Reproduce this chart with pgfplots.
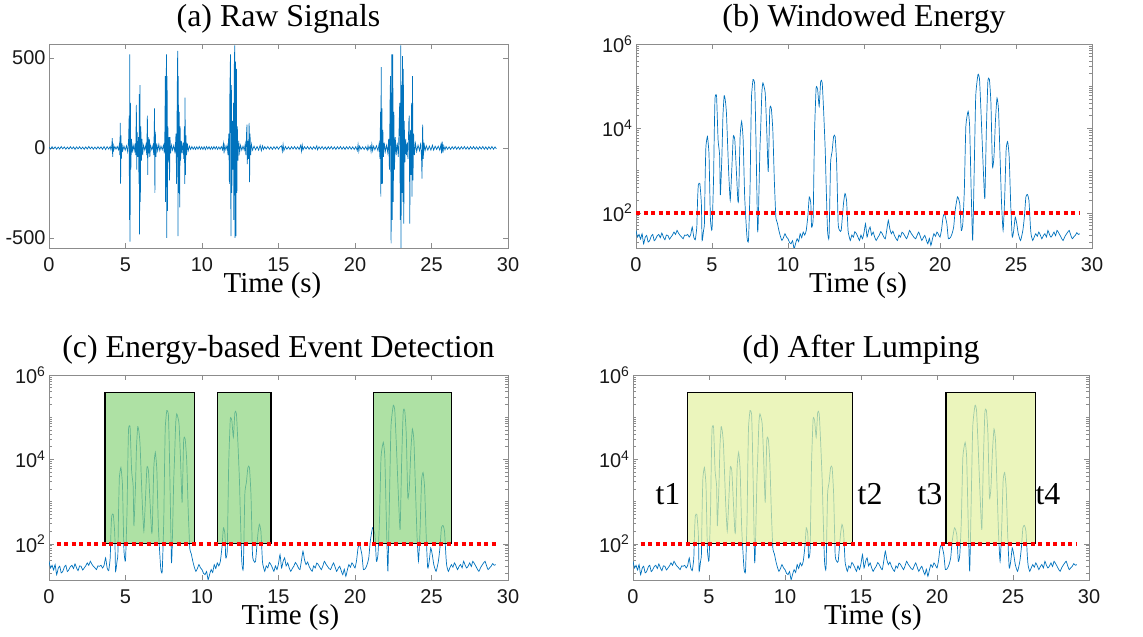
\documentclass[border=0pt]{standalone}
\usepackage{pgfplots}
\pgfplotsset{compat=1.18}
\usepackage{pgfplotstable}
\usepackage{fontspec}
\setmainfont{Liberation Serif}
\newfontfamily\tickfont{Liberation Sans}
\definecolor{mblue}{RGB}{0,114,189}
\definecolor{boxgreen}{RGB}{140,212,125}
\definecolor{boxyellow}{RGB}{226,241,159}

\pgfplotstableread{
t y
0 4
0.1 -6
0.2 7
0.3 -5
0.4 6
0.5 -7
0.6 5
0.7 -6
0.8 8
0.9 -5
1.0 6
1.1 -7
1.2 5
1.3 -6
1.4 7
1.5 -5
1.6 6
1.7 -8
1.8 6
1.9 -5
2.0 7
2.1 -6
2.2 5
2.3 -7
2.4 6
2.5 -6
2.6 8
2.7 -5
2.8 6
2.9 -7
3.0 5
3.1 -6
3.2 7
3.3 -5
3.4 6
3.5 -7
3.6 8
3.7 -9
3.8 7
3.9 -6
4.0 8
4.05 -10
4.10 8
4.14 55
4.16 -50
4.19 25
4.23 -12
4.30 8
4.38 -6
4.46 8
4.54 -10
4.60 20
4.63 -40
4.66 140
4.68 -200
4.70 70
4.73 -60
4.77 25
4.82 -15
4.90 10
4.98 -12
5.06 12
5.14 -20
5.20 40
5.24 180
5.26 -400
5.28 520
5.30 -520
5.32 250
5.35 -120
5.39 50
5.44 -25
5.50 15
5.57 -15
5.63 25
5.67 -40
5.71 240
5.73 -120
5.76 90
5.80 -50
5.85 60
5.88 -200
5.90 300
5.92 -480
5.95 350
5.97 -300
6.00 120
6.04 -70
6.08 50
6.12 -40
6.18 15
6.26 -12
6.34 20
6.39 -40
6.43 180
6.45 -150
6.48 60
6.52 -30
6.56 50
6.59 -50
6.64 15
6.72 -10
6.80 15
6.85 -40
6.88 120
6.90 220
6.92 -250
6.95 90
6.99 -50
7.04 25
7.10 -15
7.18 20
7.24 -15
7.32 10
7.40 -10
7.48 15
7.54 -30
7.58 120
7.60 400
7.62 -300
7.65 300
7.68 520
7.70 -500
7.72 400
7.74 -350
7.77 120
7.80 -80
7.85 60
7.88 -180
7.91 60
7.95 -30
8.00 15
8.08 -12
8.16 15
8.24 -30
8.30 80
8.34 -200
8.38 300
8.41 540
8.43 -490
8.45 400
8.48 -250
8.51 200
8.54 -330
8.57 120
8.60 -70
8.65 40
8.70 -30
8.76 30
8.81 -60
8.85 120
8.87 -200
8.89 280
8.92 -150
8.95 70
8.99 -40
9.04 25
9.10 -15
9.18 10
9.26 -8
9.34 8
9.42 -7
9.50 6
9.58 -8
9.66 7
9.74 -6
9.82 8
9.90 -7
9.98 6
10.06 -8
10.14 7
10.22 -9
10.30 8
10.38 -6
10.46 7
10.54 -8
10.62 6
10.70 -7
10.78 8
10.86 -6
10.94 7
11.02 -8
11.10 6
11.18 -7
11.26 8
11.34 -10
11.40 25
11.44 -30
11.49 15
11.56 -10
11.64 15
11.70 -40
11.75 80
11.79 -200
11.82 300
11.86 520
11.89 -490
11.92 350
11.95 -250
11.99 150
12.03 -120
12.06 250
12.08 -400
12.11 450
12.14 570
12.16 -500
12.19 480
12.22 -490
12.25 440
12.28 -250
12.31 120
12.35 -70
12.40 40
12.46 -25
12.52 15
12.60 -12
12.68 10
12.76 -12
12.82 20
12.87 -40
12.91 80
12.94 130
12.96 -90
13.00 40
13.04 -60
13.08 140
13.11 -190
13.14 80
13.18 -40
13.23 20
13.30 -12
13.40 10
13.50 -10
13.60 8
13.70 -12
13.80 15
13.88 -15
13.95 12
14.02 -8
14.1 7
14.2 -6
14.3 8
14.4 -7
14.5 6
14.6 -8
14.7 7
14.8 -6
14.9 8
15.0 -7
15.1 6
15.2 12
15.25 -18
15.3 20
15.35 -15
15.45 8
15.55 -7
15.65 6
15.75 -8
15.85 7
15.95 -6
16.05 8
16.15 -7
16.25 6
16.35 -8
16.45 15
16.5 -18
16.55 17
16.6 -10
16.7 7
16.8 -6
16.9 8
17.0 -7
17.1 6
17.2 -8
17.3 7
17.4 -6
17.5 12
17.55 -10
17.65 7
17.75 -6
17.85 8
17.95 -7
18.05 6
18.15 -8
18.25 7
18.35 -6
18.45 8
18.55 -7
18.65 6
18.75 -8
18.85 7
18.95 -6
19.05 8
19.15 -7
19.25 6
19.35 -8
19.45 7
19.55 -6
19.65 8
19.75 -7
19.85 6
19.95 -8
20.05 7
20.15 -15
20.2 20
20.25 -18
20.3 10
20.4 -7
20.5 6
20.6 -8
20.7 7
20.8 -12
20.85 12
20.9 -7
21.0 10
21.05 -20
21.1 20
21.15 -15
21.22 10
21.30 -10
21.40 12
21.50 -15
21.58 25
21.63 -60
21.67 200
21.69 -270
21.71 450
21.73 -200
21.76 220
21.79 -200
21.82 100
21.86 -50
21.91 30
21.98 -20
22.06 15
22.14 -25
22.20 50
22.25 -120
22.29 250
22.32 400
22.36 -530
22.40 520
22.44 -400
22.47 520
22.50 -300
22.54 200
22.58 -120
22.63 60
22.69 -40
22.76 30
22.83 -50
22.88 100
22.92 250
22.96 -400
22.99 570
23.01 -560
23.04 350
23.07 -250
23.10 510
23.13 -300
23.16 440
23.19 -420
23.22 150
23.26 -80
23.31 50
23.36 -40
23.41 30
23.46 -60
23.52 150
23.55 180
23.58 -420
23.62 100
23.66 -150
23.70 250
23.73 -270
23.76 400
23.79 -180
23.83 80
23.88 -40
23.95 25
24.03 -20
24.12 15
24.22 -15
24.30 30
24.35 -60
24.38 -170
24.42 130
24.46 -60
24.51 30
24.58 -15
24.66 12
24.76 -12
24.86 10
24.96 -12
25.06 15
25.14 -12
25.24 10
25.34 -8
25.44 10
25.54 -12
25.62 20
25.66 -30
25.70 35
25.75 -25
25.80 12
25.88 -10
25.95 8
26.05 -7
26.15 6
26.25 -8
26.35 7
26.45 -6
26.55 8
26.65 -7
26.75 6
26.85 -8
26.95 7
27.05 -6
27.15 8
27.25 -7
27.35 6
27.45 -8
27.55 7
27.65 -6
27.75 8
27.85 -7
27.95 6
28.05 -8
28.15 7
28.25 -6
28.35 8
28.45 -7
28.55 6
28.65 -8
28.75 7
28.85 -6
28.95 8
29.05 -7
29.15 6
29.24 -5
}\rawsig

\pgfplotstableread{
t E
0 38.6
0.1 26.8
0.2 31.0
0.3 24.0
0.4 32.2
0.5 18.6
0.6 26.0
0.7 29.4
0.8 20.5
0.9 22.3
1.0 28.0
1.1 31.0
1.2 22.0
1.3 24.5
1.4 29.0
1.5 31.0
1.6 26.0
1.7 33.4
1.8 27.0
1.9 23.2
2.0 30.0
2.1 29.4
2.2 24.0
2.3 26.8
2.4 30.0
2.5 35.3
2.6 31.0
2.7 38.6
2.8 33.0
2.9 29.4
3.0 27.0
3.1 24.5
3.2 30.0
3.3 29.4
3.4 31.0
3.5 26.8
3.6 31.0
3.7 46.4
3.8 26.8
3.9 23.2
4.0 46.4
4.05 200
4.1 456
4.2 499
4.3 167
4.35 22.3
4.45 40
4.5 55.7
4.55 700
4.6 3730
4.7 6450
4.8 2590
4.85 400
4.9 66.8
5.0 40.1
5.1 600
5.15 8000
5.2 52700
5.3 57800
5.4 5370
5.5 2360
5.55 264
5.65 2150
5.72 20000
5.8 60000
5.88 45000
5.95 23200
6.03 4000
6.1 864
6.2 200
6.3 1040
6.4 6450
6.5 5370
6.6 1040
6.7 200
6.75 219
6.85 6450
6.95 14700
7.05 5370
7.15 240
7.3 26.8
7.4 22.3
7.5 347
7.55 6000
7.6 57800
7.7 144000
7.8 120000
7.85 30000
7.9 3730
8.0 38.6
8.05 80
8.15 3000
8.2 9300
8.28 70000
8.35 120000
8.5 69400
8.6 9300
8.7 946
8.8 27800
8.9 30500
9.0 9300
9.1 600
9.2 80
9.3 57.8
9.4 38.6
9.5 28.0
9.6 22.3
9.7 26.0
9.8 32.2
9.9 27.0
10.0 24.5
10.1 20.0
10.2 18.6
10.3 22.0
10.4 14.2
10.5 19.0
10.6 24.5
10.7 21.0
10.8 32.2
10.9 26.0
11.0 35.3
11.1 30.0
11.2 38.6
11.3 80
11.4 240
11.5 167
11.55 46.4
11.65 66.8
11.7 800
11.75 9300
11.85 91200
11.95 83300
12.05 33400
12.15 131500
12.25 120000
12.35 23200
12.45 3000
12.5 600
12.6 38.6
12.7 26.8
12.8 1490
12.9 2830
13.0 6450
13.1 6450
13.2 1490
13.3 55.7
13.4 38.6
13.5 38.6
13.65 167
13.75 289
13.85 200
13.95 38.6
14.0 30.0
14.1 22.3
14.2 30.0
14.3 26.8
14.4 36.0
14.5 32.2
14.6 27.0
14.7 22.3
14.8 30.0
14.9 24.5
15.0 34.0
15.1 55.7
15.2 26.8
15.3 38.0
15.4 46.4
15.5 30.0
15.6 35.3
15.7 27.0
15.8 22.3
15.9 26.0
16.0 29.4
16.1 36.0
16.2 32.2
16.3 27.0
16.4 24.5
16.5 40.0
16.6 66.8
16.7 42.0
16.8 32.2
16.9 37.0
17.0 29.4
17.1 25.0
17.2 22.3
17.3 30.0
17.4 26.8
17.5 35.0
17.6 32.2
17.7 28.0
17.8 24.5
17.9 30.0
18.0 38.6
18.1 33.0
18.2 29.4
18.3 26.0
18.4 24.5
18.5 30.0
18.6 35.3
18.7 28.0
18.8 22.3
18.9 26.0
19.0 29.4
19.1 23.0
19.2 18.6
19.3 25.0
19.4 17
19.5 24.0
19.6 32.2
19.7 28.0
19.8 35.3
19.9 31.0
20.0 26.8
20.1 40.0
20.2 80
20.3 96
20.45 55.7
20.55 24.5
20.7 26.8
20.8 33.0
20.9 46.4
21.0 116
21.15 240
21.3 167
21.4 38.6
21.5 55.7
21.6 347
21.7 11160
21.85 25400
21.95 11160
22.05 347
22.15 22.3
22.25 1040
22.35 57800
22.5 190000
22.6 144000
22.7 23200
22.85 1040
22.95 219
23.05 9300
23.15 131500
23.25 144000
23.35 40100
23.45 1245
23.55 2150
23.65 16100
23.75 52700
23.85 27800
23.95 2150
24.05 167
24.15 38.6
24.25 200
24.35 3100
24.45 4900
24.55 2150
24.65 167
24.75 26.8
24.85 38.6
24.95 80
25.05 55.7
25.15 32.2
25.3 22.3
25.45 38.6
25.55 80
25.65 240
25.75 273
25.85 200
25.95 46.4
26.0 30.0
26.1 22.3
26.2 27.0
26.3 32.2
26.4 28.0
26.5 35.3
26.6 30.0
26.7 24.5
26.8 29.0
26.9 32.2
27.0 27.0
27.1 38.6
27.2 31.0
27.3 26.8
27.4 30.0
27.5 35.3
27.6 29.0
27.7 38.6
27.8 34.0
27.9 29.4
28.0 25.0
28.1 22.3
28.2 27.0
28.3 31.0
28.4 35.0
28.5 38.6
28.6 30.0
28.7 24.5
28.8 27.0
28.9 29.4
29.0 34.0
29.1 31.0
29.2 32.2
}\energy

\pgfplotsset{
  mstyle/.style={
    scale only axis, anchor=south west,
    xmin=0, xmax=30, xtick={0,5,10,15,20,25,30},
    xticklabels={0,5,10,15,20,25,30},
    axis line style={draw=black!45, line width=0.8bp},
    tick style={draw=black!45, line width=0.6bp},
    major tick length=5bp, minor tick length=3bp,
    tick align=inside,
    ticklabel style={font=\tickfont\fontsize{20}{23}\selectfont, text=black!90},
    xticklabel style={yshift=-6bp},
    xlabel={Time (s)},
    xlabel style={font=\fontsize{29}{32}\selectfont, anchor=center, yshift=-38bp},
    title style={font=\fontsize{32}{36}\selectfont, at={(axis description cs:0.5,1)}, anchor=center, yshift=19bp},
  },
  toprow/.style={xlabel style={at={(axis description cs:0.487,0)}}},
  botrow/.style={xlabel style={at={(axis description cs:0.526,0)}}},
  mlog/.style={
    mstyle, ymax=1000000,
    ytick={100,10000,1000000},
    yticklabels={10\textsuperscript{2},10\textsuperscript{4},10\textsuperscript{6}},
    minor ytick={20,30,40,50,60,70,80,90,200,300,400,500,600,700,800,900,1000,2000,3000,4000,5000,6000,7000,8000,9000,20000,30000,40000,50000,60000,70000,80000,90000,100000,200000,300000,400000,500000,600000,700000,800000,900000},
  },
}

\begin{document}
\begin{tikzpicture}
\useasboundingbox (0,0) rectangle (1143bp,637bp);

% (a)
\begin{axis}[mstyle, toprow, at={(49bp,389bp)}, width=459bp, height=204bp,
  ymin=-556, ymax=578, ytick={-500,0,500}, yticklabels={-500,0,500},
  title={(a) Raw Signals}]
\addplot[mblue, line width=0.7bp] table[x=t,y=y] {\rawsig};
\end{axis}

% (b)
\begin{axis}[ymode=log, mlog, toprow, at={(636bp,389bp)}, width=456bp, height=204bp,
  ymin=14.8, title={(b) Windowed Energy}]
\addplot[mblue, line width=0.7bp, smooth, tension=0.3] table[x=t,y=E] {\energy};
\addplot[red, line width=4bp, dash pattern=on 4bp off 3.5bp] coordinates {(0,100) (29.2,100)};
\end{axis}

% (c)
\begin{axis}[ymode=log, mlog, botrow, at={(49bp,57bp)}, width=459bp, height=205bp,
  ymin=13.9, title={(c) Energy-based Event Detection}]
\addplot[mblue, line width=0.7bp, smooth, tension=0.3] table[x=t,y=E] {\energy};
\addplot[draw=black, line width=1.3bp, fill=boxgreen, fill opacity=0.7] coordinates {(3.66,100) (9.52,100) (9.52,390000) (3.66,390000) (3.66,100)};
\addplot[draw=black, line width=1.3bp, fill=boxgreen, fill opacity=0.7] coordinates {(11.0,100) (14.51,100) (14.51,390000) (11.0,390000) (11.0,100)};
\addplot[draw=black, line width=1.3bp, fill=boxgreen, fill opacity=0.7] coordinates {(21.2,100) (26.32,100) (26.32,390000) (21.2,390000) (21.2,100)};
\addplot[red, line width=4bp, dash pattern=on 4bp off 3.5bp] coordinates {(0.5,100) (29.2,100)};
\end{axis}

% (d)
\begin{axis}[ymode=log, mlog, botrow, at={(633bp,57bp)}, width=456bp, height=205bp,
  ymin=13.9, title={(d) After Lumping}]
\addplot[mblue, line width=0.7bp, smooth, tension=0.3] table[x=t,y=E] {\energy};
\addplot[draw=black, line width=1.3bp, fill=boxyellow, fill opacity=0.7] coordinates {(3.58,100) (14.46,100) (14.46,390000) (3.58,390000) (3.58,100)};
\addplot[draw=black, line width=1.3bp, fill=boxyellow, fill opacity=0.7] coordinates {(20.6,100) (26.47,100) (26.47,390000) (20.6,390000) (20.6,100)};
\addplot[red, line width=4bp, dash pattern=on 4bp off 3.5bp] coordinates {(0.5,100) (29.2,100)};
\node[font=\fontsize{32}{36}\selectfont] at (axis cs:2.3,1480) {t1};
\node[font=\fontsize{32}{36}\selectfont] at (axis cs:15.6,1480) {t2};
\node[font=\fontsize{32}{36}\selectfont] at (axis cs:19.54,1480) {t3};
\node[font=\fontsize{32}{36}\selectfont] at (axis cs:27.3,1480) {t4};
\end{axis}
\end{tikzpicture}
\end{document}
